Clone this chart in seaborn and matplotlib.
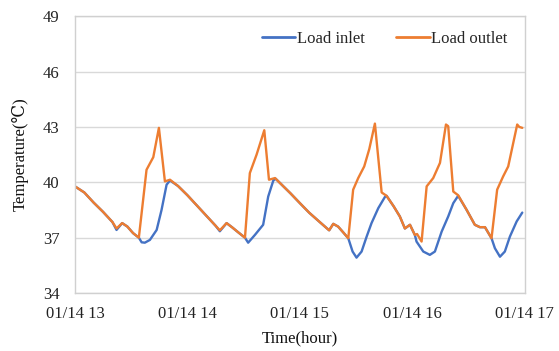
import numpy as np
import pandas as pd
import matplotlib
matplotlib.use("Agg")
import matplotlib.pyplot as plt
import matplotlib.dates as mdates
import seaborn as sns

# Minutes after 01/14 13:00 and measured temperatures (°C)
inlet_minutes = [0, 5, 10, 15, 20, 22.2, 25.2, 28, 31, 34.1, 35.6, 37.3, 40, 43.6, 46.2,
                 48.9, 50.7, 55, 60, 65, 70, 75, 77.3, 80.9, 84, 87, 90.7, 92.4, 96,
                 100.4, 103.1, 105.8, 107, 110, 115, 120, 125, 130, 135.6, 137.8, 140.4,
                 143, 145.8, 148.1, 150.2, 152.9, 155.6, 158.2, 161.8, 165.3, 166.2, 170,
                 173.3, 176, 178.7, 181.3, 182.2, 185.8, 189.3, 192, 195.6, 199.1, 201.8,
                 204.4, 208.9, 213.3, 216, 218.7, 222.2, 224, 226.7, 229.3, 232, 235.6,
                 238.6]
inlet_temp = [39.78, 39.45, 38.9, 38.4, 37.85, 37.42, 37.79, 37.6, 37.25, 37.0, 36.75,
              36.73, 36.88, 37.42, 38.5, 39.87, 40.1, 39.8, 39.3, 38.75, 38.2, 37.65,
              37.35, 37.79, 37.55, 37.3, 37.0, 36.73, 37.15, 37.7, 39.23, 40.09, 40.2,
              39.9, 39.4, 38.87, 38.35, 37.9, 37.4, 37.75, 37.6, 37.3, 36.97, 36.25,
              35.92, 36.25, 37.06, 37.79, 38.6, 39.2, 39.27, 38.7, 38.15, 37.5, 37.7,
              37.15, 36.79, 36.25, 36.07, 36.25, 37.33, 38.15, 38.87, 39.27, 38.51,
              37.7, 37.57, 37.57, 36.97, 36.43, 35.97, 36.25, 37.06, 37.88, 38.36]

outlet_minutes = [0, 5, 10, 15, 20, 22.2, 25.2, 28, 31, 34.1, 38.2, 41.8, 44.8, 48, 50.7,
                  55, 60, 65, 70, 75, 77.3, 80.9, 84, 87, 90.7, 93.3, 96.9, 101, 103.5,
                  106.7, 110, 115, 120, 125, 130, 135.6, 137.8, 140.4, 143, 145.8, 148.4,
                  151.1, 154.3, 157, 160, 163.6, 166.2, 170, 173.3, 176, 178.7, 181.3,
                  182.5, 184.9, 187.6, 191.1, 194.7, 197.9, 199.1, 201.8, 204.4, 208.9,
                  213.3, 216, 218.7, 222.2, 225.2, 228.4, 231.1, 235.9, 237, 238.6]
outlet_temp = [39.78, 39.45, 38.9, 38.4, 37.85, 37.5, 37.79, 37.6, 37.25, 37.0, 40.68,
               41.36, 42.95, 40.05, 40.14, 39.8, 39.3, 38.75, 38.2, 37.65, 37.4, 37.79,
               37.55, 37.3, 37.0, 40.5, 41.5, 42.82, 40.14, 40.23, 39.9, 39.4, 38.87,
               38.35, 37.9, 37.4, 37.75, 37.6, 37.3, 36.97, 39.6, 40.23, 40.86, 41.8,
               43.18, 39.45, 39.27, 38.7, 38.15, 37.5, 37.7, 37.15, 37.2, 36.79, 39.78,
               40.23, 41.05, 43.13, 43.04, 39.5, 39.3, 38.51, 37.7, 37.57, 37.57, 36.97,
               39.6, 40.32, 40.86, 43.13, 43.0, 42.95]

series_names = ["Load inlet", "Load outlet"]
series_colors = ["#4472C4", "#ED7D31"]
y_ticks = [34, 37, 40, 43, 46, 49]

start = pd.Timestamp("2021-01-14 13:00")
df = pd.concat([
    pd.DataFrame({"time": start + pd.to_timedelta(inlet_minutes, unit="min"),
                  "temp": inlet_temp, "series": series_names[0]}),
    pd.DataFrame({"time": start + pd.to_timedelta(outlet_minutes, unit="min"),
                  "temp": outlet_temp, "series": series_names[1]}),
], ignore_index=True)

sns.set_theme(style="white")
plt.rcParams["font.family"] = ["Liberation Serif", "DejaVu Serif"]

fig = plt.figure(figsize=(5.59, 3.51), dpi=100)
ax = fig.add_axes([0.134, 0.165, 0.805, 0.789])

sns.lineplot(data=df, x="time", y="temp", hue="series", hue_order=series_names,
             palette=series_colors, estimator=None, sort=False, linewidth=1.7,
             ax=ax, legend=False)

ax.set_ylim(y_ticks[0], y_ticks[-1])
ax.set_yticks(y_ticks)
ax.set_xlim(start, start + pd.Timedelta(hours=4))
ax.xaxis.set_major_locator(mdates.HourLocator())
ax.xaxis.set_major_formatter(mdates.DateFormatter("%m/%d %H"))
ax.tick_params(axis="both", length=0, labelsize=12, colors="#222222")
ax.tick_params(axis="x", pad=9)
ax.tick_params(axis="y", pad=11)
ax.grid(axis="y", color="#d9d9d9", linewidth=1)
ax.set_axisbelow(True)
for s in ax.spines.values():
    s.set_color("#d0d0d0")
    s.set_linewidth(1)

ax.set_xlabel("Time(hour)", fontsize=12, color="#111111", labelpad=6)
ax.set_ylabel("Temperature(℃)", fontsize=12, color="#111111", labelpad=10)

handles = [plt.Line2D([], [], color=c, linewidth=2) for c in series_colors]
ax.legend(handles, series_names, loc="upper right", ncol=2, frameon=False,
          fontsize=12, handlelength=2.0, handletextpad=0.1, columnspacing=1.9,
          bbox_to_anchor=(0.995, 1.0))

fig.savefig("out.png", dpi=100)
